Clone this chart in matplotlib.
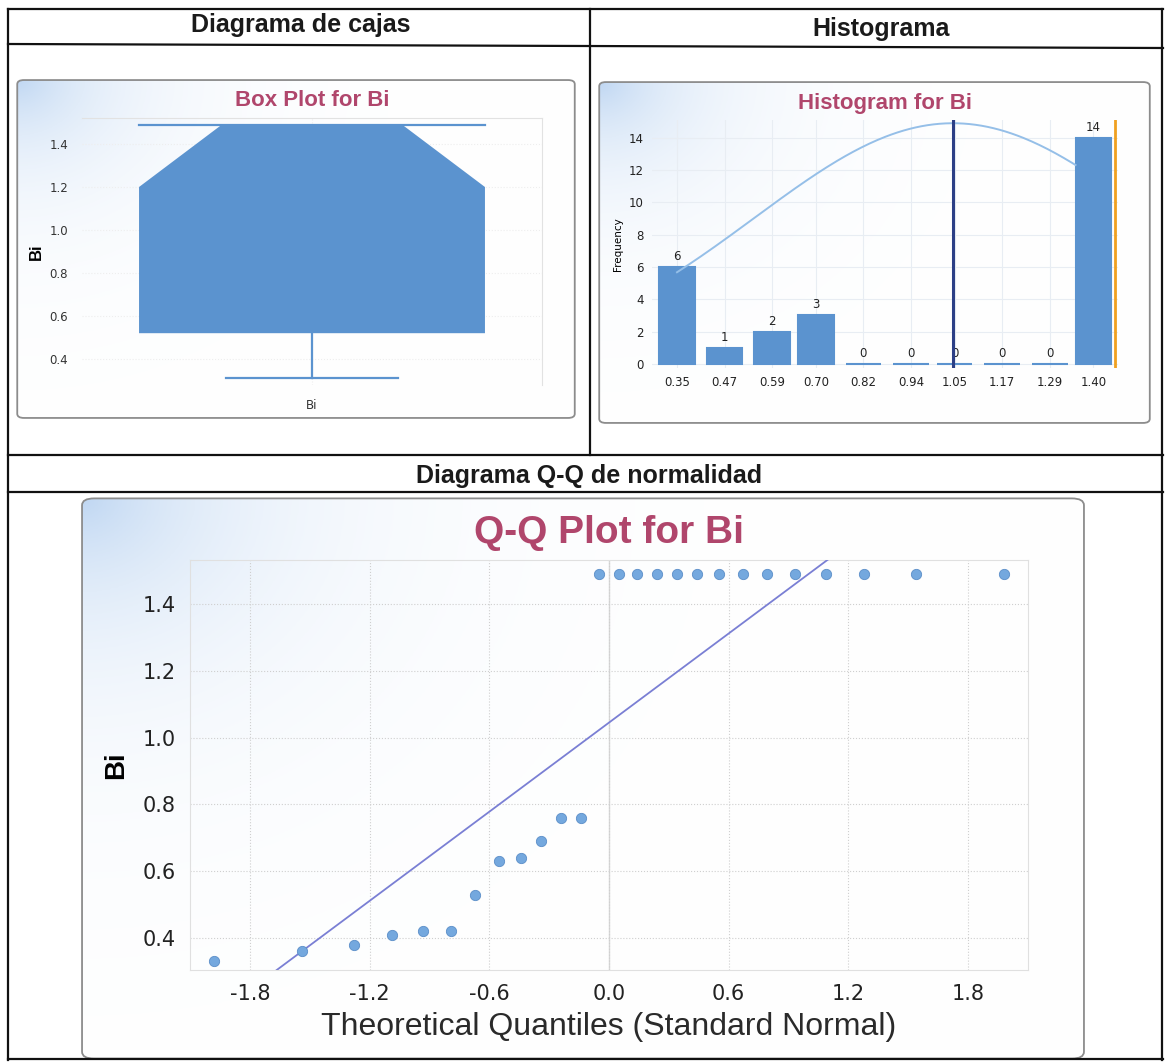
import numpy as np
import matplotlib
matplotlib.use("Agg")
import matplotlib.pyplot as plt
from matplotlib.patches import FancyBboxPatch

# ---- data ----
bi_values = [0.33, 0.36, 0.38, 0.41, 0.42, 0.42, 0.53, 0.63, 0.64, 0.69, 0.76, 0.76,
             1.49, 1.49, 1.49, 1.49, 1.49, 1.49, 1.49, 1.49, 1.49, 1.49, 1.49, 1.49, 1.49, 1.49]
qq_theoretical = [-1.98, -1.54, -1.28, -1.09, -0.93, -0.79, -0.67, -0.55, -0.44, -0.34, -0.24, -0.14, -0.05,
                  0.05, 0.14, 0.24, 0.34, 0.44, 0.55, 0.67, 0.79, 0.93, 1.09, 1.28, 1.54, 1.98]
qq_line_intercept = 1.045
qq_line_slope = 0.445

box_q1 = 0.52
box_median = 1.49
box_q3 = 1.49
box_notch_lo = 1.20
box_whisker_lo = 0.31
box_whisker_hi = 1.49

hist_labels = ["0.35", "0.47", "0.59", "0.70", "0.82", "0.94", "1.05", "1.17", "1.29", "1.40"]
hist_counts = [6, 1, 2, 3, 0, 0, 0, 0, 0, 14]
hist_curve_peak = 14.9
hist_right_line = 1.455

W, H = 1165, 1063
fig = plt.figure(figsize=(W / 100, H / 100), dpi=100)
fig.patch.set_facecolor("white")

narrow = ["Liberation Sans Narrow", "DejaVu Sans"]
sans = ["Liberation Sans", "DejaVu Sans"]
blue = "#5b93cf"
title_col = "#b0466c"


def fx(x):
    return x / W


def fy(y):
    return 1 - y / H


def line(x0, y0, x1, y1, lw=1.6):
    fig.add_artist(plt.Line2D([fx(x0), fx(x1)], [fy(y0), fy(y1)], transform=fig.transFigure,
                              color="#111111", lw=lw))


def panel(x0, y0, x1, y1, spread=90.0):
    ax = fig.add_axes([fx(x0), fy(y1), fx(x1 - x0), (y1 - y0) / H], zorder=0)
    ax.set_axis_off()
    ax.set_xlim(0, 1)
    ax.set_ylim(0, 1)
    w, h = x1 - x0, y1 - y0
    xx, yy = np.meshgrid(np.linspace(0, w, 250), np.linspace(0, h, 250))
    a = np.exp(-np.sqrt(xx ** 2 + (yy * 1.2) ** 2) / spread) * 0.85
    c0 = np.array([1.0, 1.0, 1.0])
    c1 = np.array([0.70, 0.81, 0.94])
    img = c0[None, None, :] * (1 - a[..., None]) + c1[None, None, :] * a[..., None]
    im = ax.imshow(img, extent=[0, 1, 0, 1], aspect="auto", origin="upper")
    p = FancyBboxPatch((0.004, 0.006), 0.992, 0.988, boxstyle="round,pad=0,rounding_size=0.012",
                       fc="none", ec="#8c8c8c", lw=1.3, transform=ax.transAxes)
    ax.add_patch(p)
    im.set_clip_path(p)


# ---- table frame ----
line(8, 9, 1163, 9)
line(8, 9, 8, 1060)
line(1162, 9, 1162, 1060)
line(8, 1059, 1163, 1059)
line(8, 44, 1163, 48)
line(590, 9, 590, 455)
line(8, 455, 1163, 455)
line(8, 492, 1163, 492)

fig.text(fx(301), fy(25), "Diagrama de cajas", ha="center", va="center", fontsize=18,
         fontweight="bold", family=sans, color="#1a1a1a")
fig.text(fx(881), fy(29), "Histograma", ha="center", va="center", fontsize=18,
         fontweight="bold", family=sans, color="#1a1a1a")
fig.text(fx(589), fy(476), "Diagrama Q-Q de normalidad", ha="center", va="center", fontsize=18,
         fontweight="bold", family=sans, color="#1a1a1a")

panel(15, 78, 577, 420)
panel(597, 80, 1152, 425)
panel(78, 495, 1088, 1062, spread=150.0)

# ---- box plot ----
ax1 = fig.add_axes([fx(82), fy(385), fx(460), 267 / H], zorder=1)
ax1.set_facecolor("none")
ax1.set_xlim(0, 1)
ax1.set_ylim(0.279, 1.521)
c, hw, nw, cw = 0.5, 0.376, 0.196, 0.187
ax1.fill([c - hw, c + hw, c + hw, c + nw, c - nw, c - hw],
         [box_q1, box_q1, box_notch_lo, box_median, box_median, box_notch_lo],
         color=blue, lw=0, zorder=2)
ax1.plot([c - hw, c + hw], [box_whisker_hi, box_whisker_hi], color=blue, lw=1.6, zorder=3)
ax1.plot([c, c], [box_whisker_lo, box_q1], color=blue, lw=1.6, zorder=3)
ax1.plot([c - cw, c + cw], [box_whisker_lo, box_whisker_lo], color=blue, lw=1.6, zorder=3)
ax1.set_yticks([0.4, 0.6, 0.8, 1.0, 1.2, 1.4])
ax1.set_yticklabels(["0.4", "0.6", "0.8", "1.0", "1.2", "1.4"], family=narrow, fontsize=8.5, color="#333333")
ax1.set_xticks([c])
ax1.set_xticklabels(["Bi"], family=narrow, fontsize=8.5, color="#333333")
ax1.tick_params(length=0, pad=10)
ax1.grid(True, color="#eeeeee", lw=0.8, ls=":")
for s in ["left", "bottom"]:
    ax1.spines[s].set_visible(False)
for s in ["top", "right"]:
    ax1.spines[s].set_color("#e2e2e2")
ax1.set_ylabel("Bi", fontsize=12, fontweight="bold", family=sans, labelpad=4)
ax1.set_title("Box Plot for Bi", fontsize=16, fontweight="bold", family=sans, color=title_col, pad=9)

# ---- histogram ----
centers = np.array([float(s) for s in hist_labels])
ax2 = fig.add_axes([fx(652), fy(368), fx(466), 248 / H], zorder=1)
ax2.set_facecolor("none")
ax2.bar(centers, hist_counts, width=0.09, color=blue, edgecolor=blue, lw=1.5, zorder=3)
for xc, n in zip(centers, hist_counts):
    ax2.text(xc, n + 0.25, str(n), ha="center", va="bottom", fontsize=8.5, family=narrow, color="#222222")
mu = np.mean(bi_values)
sd = np.std(bi_values, ddof=1)
xs = np.linspace(centers[0], centers[-1] - 0.045, 200)
ax2.plot(xs, hist_curve_peak * np.exp(-0.5 * ((xs - mu) / sd) ** 2), color="#95bfe8", lw=1.4, zorder=4)
ax2.axvline(mu, color="#2c3f86", lw=2.2, zorder=5)
ax2.axvline(hist_right_line, color="#f0a020", lw=2.0, zorder=5)
ax2.set_xlim(0.287, 1.462)
ax2.set_ylim(-0.25, 15.1)
ax2.set_xticks(centers)
ax2.set_xticklabels(hist_labels, family=narrow, fontsize=8.5, color="#222222")
ax2.set_yticks(range(0, 15, 2))
ax2.set_yticklabels([str(v) for v in range(0, 15, 2)], family=narrow, fontsize=8.5, color="#222222")
ax2.tick_params(length=0, pad=6)
ax2.grid(True, color="#e8edf3", lw=0.8)
ax2.set_axisbelow(True)
for s in ax2.spines.values():
    s.set_visible(False)
ax2.set_ylabel("Frequency", fontsize=7.5, family=narrow, labelpad=4)
ax2.set_title("Histogram for Bi", fontsize=16, fontweight="bold", family=sans, color=title_col, pad=8)

# ---- Q-Q plot ----
ax3 = fig.add_axes([fx(190), fy(970), fx(838), 410 / H], zorder=1)
ax3.set_facecolor("none")
ax3.set_xlim(-2.1, 2.1)
ax3.set_ylim(0.304, 1.532)
ax3.scatter(qq_theoretical, sorted(bi_values), s=55, color="#74a8de", edgecolor="#5b8ec8", lw=0.6, zorder=4)
lx = np.array([-2.1, 2.1])
ax3.plot(lx, qq_line_intercept + qq_line_slope * lx, color="#7a7fd4", lw=1.3, zorder=3)
ax3.axvline(0, color="#d8d8d8", lw=1.0, zorder=1)
xt = [-1.8, -1.2, -0.6, 0.0, 0.6, 1.2, 1.8]
ax3.set_xticks(xt)
ax3.set_xticklabels(["-1.8", "-1.2", "-0.6", "0.0", "0.6", "1.2", "1.8"], family=narrow, fontsize=15, color="#222222")
yt = [0.4, 0.6, 0.8, 1.0, 1.2, 1.4]
ax3.set_yticks(yt)
ax3.set_yticklabels(["0.4", "0.6", "0.8", "1.0", "1.2", "1.4"], family=narrow, fontsize=15, color="#222222")
ax3.tick_params(length=0, pad=10)
ax3.grid(True, color="#cfcfcf", lw=0.8, ls=":")
for s in ax3.spines.values():
    s.set_color("#e0e0e0")
ax3.set_xlabel("Theoretical Quantiles (Standard Normal)", fontsize=23, family=sans, color="#2a2a2a",
               labelpad=6)
ax3.set_ylabel("Bi", fontsize=20, fontweight="bold", family=sans, labelpad=10)
ax3.set_title("Q-Q Plot for Bi", fontsize=28, fontweight="bold", family=sans, color=title_col, pad=12)

fig.savefig("out.png", dpi=100)
